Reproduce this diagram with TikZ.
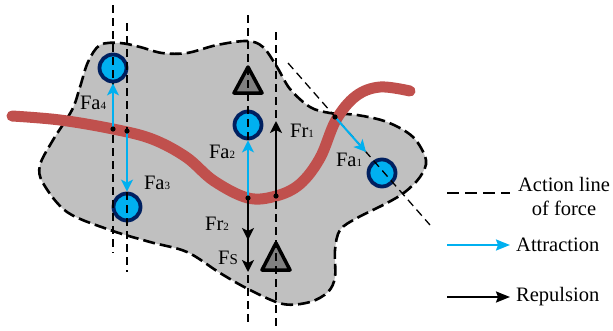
\documentclass[tikz,border=0pt]{standalone}
\usepackage{fontspec}
\setmainfont{Liberation Serif}
\usetikzlibrary{arrows.meta}
\definecolor{blobgray}{RGB}{192,192,192}
\definecolor{redc}{RGB}{192,80,77}
\definecolor{bluec}{RGB}{0,176,240}
\definecolor{navyc}{RGB}{0,32,96}
\definecolor{trigray}{RGB}{128,128,128}
\tikzset{
  ball/.style={circle,draw=navyc,fill=bluec,line width=3.8pt,minimum size=27pt,inner sep=0pt},
  tri/.style={draw=black,fill=trigray,line width=3.5pt,line join=round},
  actline/.style={dashed,dash pattern=on 8pt off 5pt,line width=1.3pt},
  attr/.style={draw=bluec,line width=2pt,-{Stealth[length=12pt,width=12pt,inset=3pt]}},
  repl/.style={draw=black,line width=2pt,-{Stealth[length=12pt,width=12pt,inset=3pt]}},
  lbl/.style={inner sep=0pt,font=\fontsize{20.5}{24}\selectfont},
  legtxt/.style={inner sep=0pt,anchor=west,font=\fontsize{20.5}{26}\selectfont},
}
\newcommand{\sm}[1]{{\fontsize{11}{11}\selectfont #1}}
\begin{document}
\begin{tikzpicture}[x=1pt,y=-1pt]
\useasboundingbox (0,0) rectangle (613,330);
% blob
\draw[fill=blobgray,line width=2.6pt,dash pattern=on 12pt off 5pt]
  plot[smooth cycle,tension=0.55] coordinates {
  (100,45) (120,43) (140,47) (162,53) (187,53) (217,45) (247,41) (263,47)
  (277,67) (290,89) (310,107) (330,113) (357,115) (387,122) (413,137) (426,160)
  (420,177) (405,192) (387,203) (357,218) (340,230) (335,250) (335,277) (328,292)
  (310,302) (283,304) (250,290) (220,273) (187,252) (150,242) (110,230) (67,212)
  (43,183) (40,165) (53,140) (72,110) (80,87) (88,62)};
% red curve
\draw[redc,line width=11pt,line cap=round]
  plot[smooth,tension=0.6] coordinates {
  (12,116) (60,120) (113,129) (152,139) (186,157) (214,181) (248,198) (276,196)
  (300,184) (320,158) (336,120) (356,96) (380,87) (410,91)};
% balls
\node[ball] (C4) at (113,68) {};
\node[ball] (C2) at (248,125) {};
\node[ball] (C3) at (127,207) {};
\node[ball] (C1) at (382,173) {};
% triangles
\draw[tri] (248,67) -- (262,93) -- (234,93) -- cycle;
\draw[tri] (276,243) -- (290,270) -- (262,270) -- cycle;
% action lines
\coordinate (v1a) at (113,5);   \coordinate (v1b) at (113,253);
\coordinate (v2a) at (127,23);  \coordinate (v2b) at (127,272);
\coordinate (v3a) at (248,15);  \coordinate (v3b) at (248,322);
\coordinate (v4a) at (276,32);  \coordinate (v4b) at (276,330);
\coordinate (dga) at (288,63);  \coordinate (dgb) at (430,225);
\draw[actline] (v1a) -- (v1b);
\draw[actline] (v2a) -- (v2b);
\draw[actline] (v3a) -- (v3b);
\draw[actline] (v4a) -- (v4b);
\draw[actline] (dga) -- (dgb);
% points on curve
\coordinate (p4) at (113,129);
\coordinate (p3) at (127,131);
\coordinate (p2) at (248,198);
\coordinate (pr) at (276,196);
\coordinate (p1) at (335,117);
\coordinate (q1) at (366,152);
\coordinate (fr1) at (276,121);
\coordinate (fr2) at (248,240);
\coordinate (fs) at (248,272);
% forces
\draw[attr] (p4) -- (C4);
\draw[attr] (p3) -- (C3);
\draw[attr] (p2) -- (C2);
\draw[attr] (p1) -- (q1);
\draw[repl] (pr) -- (fr1);
\draw[repl] (p2) -- (fr2);
\draw[repl] (fr2) -- (fs);
\foreach \p in {p4,p3,p2,pr,p1} \fill (\p) circle (2.6pt);
% labels
\node[lbl] (lFa4) at (93,103) {Fa\sm{4}};
\node[lbl] (lFa3) at (157,183) {Fa\sm{3}};
\node[lbl] (lFa2) at (222,152) {Fa\sm{2}};
\node[lbl] (lFr1) at (302,131) {Fr\sm{1}};
\node[lbl] (lFa1) at (349,160) {Fa\sm{1}};
\node[lbl] (lFr2) at (217,224) {Fr\sm{2}};
\node[lbl] (lFs) at (228,258) {F{\fontsize{15}{15}\selectfont S}};
% legend
\coordinate (l1a) at (447,193); \coordinate (l1b) at (510,193);
\coordinate (l2a) at (447,245); \coordinate (l2b) at (510,245);
\coordinate (l3a) at (447,297); \coordinate (l3b) at (510,297);
\draw[dashed,dash pattern=on 12pt off 6pt,line width=1.5pt] (l1a) -- (l1b);
\draw[attr,-{Stealth[length=14pt,width=11pt,inset=2pt]}] (l2a) -- (l2b);
\draw[repl,-{Stealth[length=14pt,width=11pt,inset=2pt]}] (l3a) -- (l3b);
\node[lbl,align=center] (t1) at (564,196) {Action line\\of force};
\node[legtxt] (t2) at (516,245) {Attraction};
\node[legtxt] (t3) at (516,297) {Repulsion};
\end{tikzpicture}
\end{document}
